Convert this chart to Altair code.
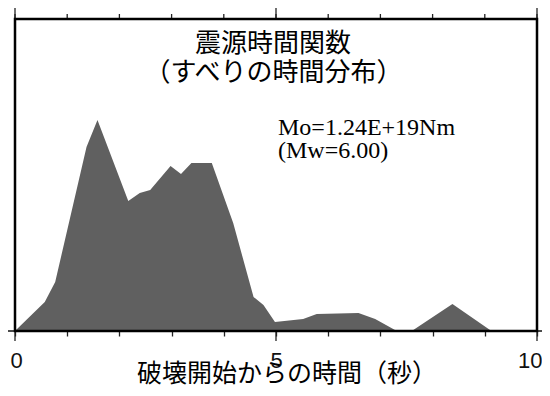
import altair as alt
import pandas as pd

# Source time function (slip-rate)
time_s = [0, 0.57, 0.77, 1.37, 1.58, 2.17, 2.39, 2.59, 2.98, 3.18, 3.38, 3.77,
          4.18, 4.57, 4.76, 4.98, 5.52, 5.78, 6.58, 6.9, 7.28, 7.63, 8.38, 9.1, 10]
rate = [0, 29, 49, 184, 211, 130, 138, 141, 165, 157, 168, 168,
        108, 34, 26, 9, 12, 17, 18, 12, 1, 1, 27, 1, 1]

tick_values = list(range(11))
major_ticks = [0, 5, 10]

title_line1 = "震源時間関数"
title_line2 = "（すべりの時間分布）"
mo_text = "Mo=1.24E+19Nm"
mw_text = "(Mw=6.00)"
x_title = "破壊開始からの時間（秒）"

W, H = 522, 312

df = pd.DataFrame({"t": time_s, "v": rate})
ticks_df = pd.DataFrame({"m": tick_values})
major_df = pd.DataFrame({"m": major_ticks})

xscale = alt.Scale(domain=[0, 10], nice=False, zero=False)
yscale = alt.Scale(domain=[0, 312], nice=False)

area = alt.Chart(df).mark_area(color="#606060", opacity=1).encode(
    x=alt.X("t:Q", scale=xscale, title=None,
            axis=alt.Axis(values=tick_values, orient="bottom", domain=False, grid=False,
                          tickSize=5, tickWidth=1.3, tickColor="#222",
                          labelExpr="datum.value % 5 === 0 ? datum.label : ''",
                          labelFont="Liberation Sans", labelFontSize=22,
                          labelColor="#111", labelPadding=14,
                          labelFlush=True, labelFlushOffset=5)),
    y=alt.Y("v:Q", scale=yscale, axis=None),
)

top_minor = alt.Chart(ticks_df).mark_rule(color="#222", strokeWidth=1.3).encode(
    x=alt.X("m:Q", scale=xscale),
    y=alt.value(-5), y2=alt.value(0),
)
top_major = alt.Chart(major_df).mark_rule(color="#222", strokeWidth=1.3).encode(
    x=alt.X("m:Q", scale=xscale),
    y=alt.value(-11), y2=alt.value(0),
)
bottom_major = alt.Chart(major_df).mark_rule(color="#222", strokeWidth=1.3).encode(
    x=alt.X("m:Q", scale=xscale),
    y=alt.value(H), y2=alt.value(H + 10),
)

baseline = alt.Chart(major_df).mark_rule(color="#333", strokeWidth=1).encode(
    x=alt.value(-12), x2=alt.value(W + 5), y=alt.value(H),
)

frame = alt.Chart(major_df.head(1)).mark_rect(
    fill=None, fillOpacity=0, stroke="#000", strokeWidth=2.5
).encode(x=alt.value(0), x2=alt.value(W), y=alt.value(0), y2=alt.value(H))

def label(text, x, y, font, size, align="center", baseline="middle"):
    return alt.Chart(pd.DataFrame({"s": [text]})).mark_text(
        font=font, fontSize=size, align=align, baseline=baseline, color="#000"
    ).encode(text="s:N", x=alt.value(x), y=alt.value(y))

t1 = label(title_line1, 258, 25, "Noto Sans CJK JP", 26)
t2 = label(title_line2, 258.5, 54, "Noto Sans CJK JP", 26)
m1 = label(mo_text, 263, 116, "Liberation Serif", 24, align="left", baseline="alphabetic")
m2 = label(mw_text, 263, 139, "Liberation Serif", 24, align="left", baseline="alphabetic")
xt = label(x_title, 272, 355, "Noto Sans CJK JP", 25)

chart = alt.layer(area, top_minor, top_major, bottom_major, baseline, frame,
                  t1, t2, m1, m2, xt).properties(
    width=W, height=H,
    autosize=alt.AutoSizeParams(type="none"),
    padding={"left": 7, "top": 11, "right": 5, "bottom": 57},
).configure_view(
    strokeWidth=0
)

chart.save("out.html", embed_options={"renderer": "svg", "actions": False})
